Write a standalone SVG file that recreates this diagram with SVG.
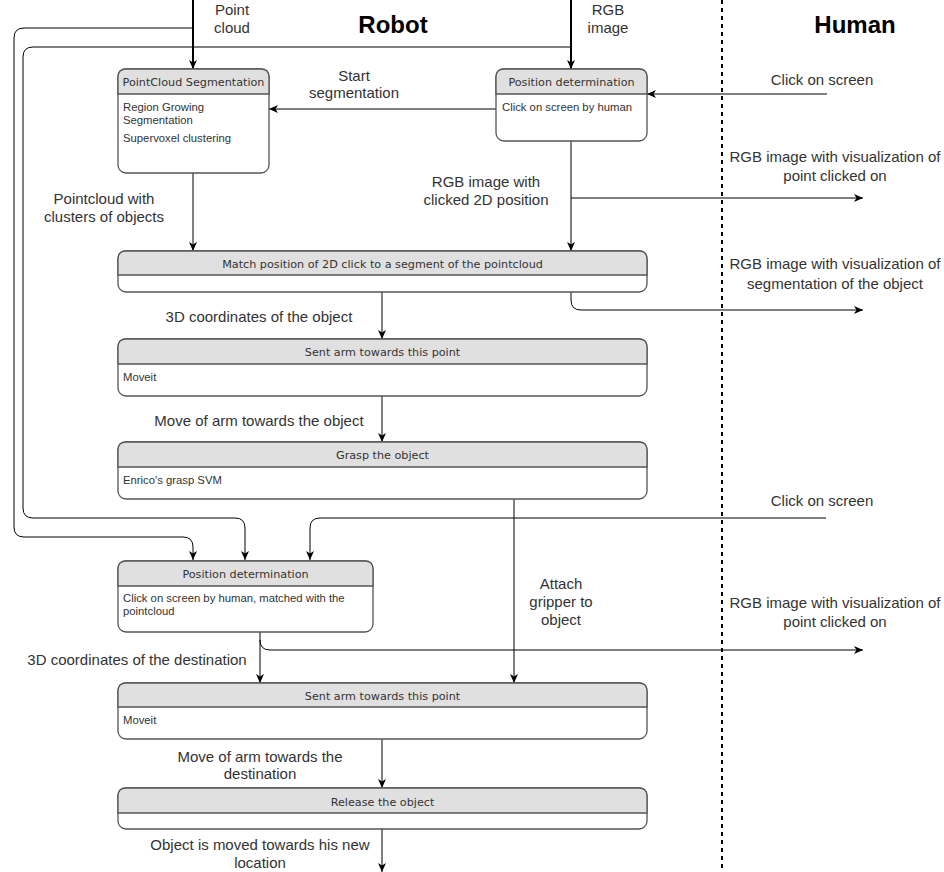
<svg xmlns="http://www.w3.org/2000/svg" width="944" height="872" viewBox="0 0 944 872">
<style>
.box{fill:#fff;stroke:#555;stroke-width:1.3}
.hdr{fill:#e0e0e0;stroke:#555;stroke-width:1.3}
.ttl{font-family:"DejaVu Sans",sans-serif;font-size:11.2px;fill:#333;text-anchor:middle}
.body{font-family:"Liberation Sans",Arial,sans-serif;font-size:11.3px;fill:#333}
.lbl{font-family:"Liberation Sans",Arial,sans-serif;font-size:15px;fill:#333;text-anchor:middle}
.big{font-family:"Liberation Sans",Arial,sans-serif;font-size:24px;font-weight:bold;fill:#000;text-anchor:middle}
.e{fill:none;stroke:#000;stroke-width:1}
.et{fill:none;stroke:#000;stroke-width:2}
</style>
<defs>
<marker id="a" markerUnits="userSpaceOnUse" markerWidth="10" markerHeight="10" viewBox="0 0 10 10" refX="9" refY="5" orient="auto">
<path d="M0,1 L9,5 L0,9 L2.5,5 Z" fill="#000"/>
</marker>
</defs>
<rect width="944" height="872" fill="#fff"/>
<line x1="722" y1="0" x2="722" y2="872" stroke="#000" stroke-width="2" stroke-dasharray="4 4"/>
<text class="big" x="393" y="33">Robot</text>
<text class="big" x="855" y="33">Human</text>

<g id="connectors">
<path class="et" d="M193,0 V69" marker-end="url(#a)"/>
<path class="et" d="M571,0 V69" marker-end="url(#a)"/>
<path class="e" d="M193,28 H24 Q14,28 14,38 V527 Q14,537 24,537 H183 Q193,537 193,547 V560" marker-end="url(#a)"/>
<path class="e" d="M571,47 H33 Q23,47 23,57 V508 Q23,518 33,518 H235 Q245,518 245,528 V560" marker-end="url(#a)"/>
<path class="e" d="M826,518 H320 Q310,518 310,528 V560" marker-end="url(#a)"/>
<path class="e" d="M827,94 H647" marker-end="url(#a)"/>
<path class="e" d="M496,109 H269" marker-end="url(#a)"/>
<path class="e" d="M193,173 V251" marker-end="url(#a)"/>
<path class="e" d="M571,141 V251" marker-end="url(#a)"/>
<path class="e" d="M571,198 H863" marker-end="url(#a)"/>
<path class="e" d="M382,292 V339" marker-end="url(#a)"/>
<path class="e" d="M571,292 V300 Q571,310 581,310 H863" marker-end="url(#a)"/>
<path class="e" d="M382,396 V442" marker-end="url(#a)"/>
<path class="e" d="M514,499 V683" marker-end="url(#a)"/>
<path class="e" d="M260,632 V683" marker-end="url(#a)"/>
<path class="e" d="M260,640 Q260,650 270,650 H863" marker-end="url(#a)"/>
<path class="e" d="M382,739 V788" marker-end="url(#a)"/>
<path class="e" d="M382,829 V872" marker-end="url(#a)"/>
</g>

<g id="labels">
<text class="lbl" x="232" y="15">Point</text>
<text class="lbl" x="232" y="33">cloud</text>
<text class="lbl" x="608" y="15">RGB</text>
<text class="lbl" x="608" y="33">image</text>
<text class="lbl" x="354" y="81">Start</text>
<text class="lbl" x="354" y="98">segmentation</text>
<text class="lbl" x="822" y="85">Click on screen</text>
<text class="lbl" x="104" y="204">Pointcloud with</text>
<text class="lbl" x="104" y="222">clusters of objects</text>
<text class="lbl" x="486" y="187">RGB image with</text>
<text class="lbl" x="486" y="205">clicked 2D position</text>
<text class="lbl" x="835" y="162">RGB image with visualization of</text>
<text class="lbl" x="835" y="181">point clicked on</text>
<text class="lbl" x="259" y="322">3D coordinates of the object</text>
<text class="lbl" x="835" y="269">RGB image with visualization of</text>
<text class="lbl" x="835" y="289">segmentation of the object</text>
<text class="lbl" x="259" y="426">Move of arm towards the object</text>
<text class="lbl" x="822" y="506">Click on screen</text>
<text class="lbl" x="561" y="589">Attach</text>
<text class="lbl" x="561" y="607">gripper to</text>
<text class="lbl" x="561" y="625">object</text>
<text class="lbl" x="835" y="608">RGB image with visualization of</text>
<text class="lbl" x="835" y="627">point clicked on</text>
<text class="lbl" x="137" y="665">3D coordinates of the destination</text>
<text class="lbl" x="260" y="762">Move of arm towards the</text>
<text class="lbl" x="260" y="779">destination</text>
<text class="lbl" x="260" y="850">Object is moved towards his new</text>
<text class="lbl" x="260" y="868">location</text>
</g>

<g id="pcseg">
<rect class="box" x="118" y="69" width="151" height="104" rx="8"/>
<path class="hdr" d="M118,94 V77 Q118,69 126,69 H261 Q269,69 269,77 V94 Z"/>
<text class="ttl" x="193.5" y="86">PointCloud Segmentation</text>
<text class="body" x="123" y="111">Region Growing</text>
<text class="body" x="123" y="124">Segmentation</text>
<text class="body" x="123" y="142">Supervoxel clustering</text>
</g>

<g id="posdet1">
<rect class="box" x="496" y="69" width="151" height="72" rx="8"/>
<path class="hdr" d="M496,94 V77 Q496,69 504,69 H639 Q647,69 647,77 V94 Z"/>
<text class="ttl" x="571.5" y="86">Position determination</text>
<text class="body" x="502" y="111">Click on screen by human</text>
</g>

<g id="match">
<rect class="box" x="118" y="251" width="529" height="41" rx="8"/>
<path class="hdr" d="M118,275 V259 Q118,251 126,251 H639 Q647,251 647,259 V275 Z"/>
<text class="ttl" x="382.5" y="268">Match position of 2D click to a segment of the pointcloud</text>
</g>

<g id="sentarm1">
<rect class="box" x="118" y="339" width="529" height="57" rx="8"/>
<path class="hdr" d="M118,364 V347 Q118,339 126,339 H639 Q647,339 647,347 V364 Z"/>
<text class="ttl" x="382.5" y="356">Sent arm towards this point</text>
<text class="body" x="123" y="381">Moveit</text>
</g>

<g id="grasp">
<rect class="box" x="118" y="442" width="529" height="57" rx="8"/>
<path class="hdr" d="M118,467 V450 Q118,442 126,442 H639 Q647,442 647,450 V467 Z"/>
<text class="ttl" x="382.5" y="459">Grasp the object</text>
<text class="body" x="123" y="484">Enrico's grasp SVM</text>
</g>

<g id="posdet2">
<rect class="box" x="118" y="561" width="255" height="71" rx="8"/>
<path class="hdr" d="M118,586 V569 Q118,561 126,561 H365 Q373,561 373,569 V586 Z"/>
<text class="ttl" x="245.5" y="578">Position determination</text>
<text class="body" x="123" y="602">Click on screen by human, matched with the</text>
<text class="body" x="123" y="615">pointcloud</text>
</g>

<g id="sentarm2">
<rect class="box" x="118" y="683" width="529" height="56" rx="8"/>
<path class="hdr" d="M118,707 V691 Q118,683 126,683 H639 Q647,683 647,691 V707 Z"/>
<text class="ttl" x="382.5" y="700">Sent arm towards this point</text>
<text class="body" x="123" y="724">Moveit</text>
</g>

<g id="release">
<rect class="box" x="118" y="788" width="529" height="41" rx="8"/>
<path class="hdr" d="M118,813 V796 Q118,788 126,788 H639 Q647,788 647,796 V813 Z"/>
<text class="ttl" x="382.5" y="806">Release the object</text>
</g>
</svg>
